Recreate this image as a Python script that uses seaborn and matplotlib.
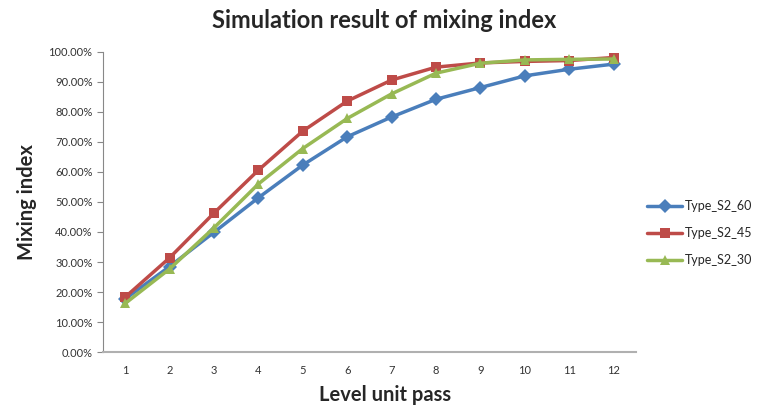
import pandas as pd
import matplotlib.pyplot as plt
import seaborn as sns
from matplotlib.ticker import PercentFormatter

passes = list(range(1, 13))
type_s2_60 = [17.7, 28.5, 39.9, 51.4, 62.3, 71.7, 78.3, 84.2, 88.1, 92.0, 94.2, 95.9]
type_s2_45 = [18.3, 31.4, 46.3, 60.6, 73.6, 83.6, 90.6, 94.9, 96.3, 96.8, 97.1, 98.1]
type_s2_30 = [16.2, 27.7, 41.4, 56.0, 67.8, 77.8, 86.0, 92.9, 96.2, 97.3, 97.5, 97.6]

series = ["Type_S2_60", "Type_S2_45", "Type_S2_30"]
colors = ["#4a7ebb", "#be4b48", "#98b954"]
markers = ["D", "s", "^"]

df = pd.DataFrame({
    "pass": passes * 3,
    "value": type_s2_60 + type_s2_45 + type_s2_30,
    "series": [s for s in series for _ in passes],
})

sns.set_style("white")
plt.rcParams["font.family"] = ["Lato", "DejaVu Sans"]

fig = plt.figure(figsize=(7.57, 4.08), dpi=100)
ax = fig.add_axes([0.136, 0.137, 0.704, 0.736])

sns.lineplot(data=df, x="pass", y="value", hue="series", style="series",
             palette=colors, markers=markers, dashes=False, linewidth=2.5,
             markersize=7, markeredgewidth=0, ax=ax)

ax.set_xlim(0.5, 12.5)
ax.set_ylim(0, 100)
ax.set_xticks(passes)
ax.set_yticks(range(0, 101, 10))
ax.yaxis.set_major_formatter(PercentFormatter(decimals=2))
ax.tick_params(axis="y", left=True, length=4, color="#888888", labelsize=8, labelcolor="#333333")
ax.tick_params(axis="x", bottom=False, labelsize=8, labelcolor="#333333", pad=6)

for side in ["top", "right"]:
    ax.spines[side].set_visible(False)
ax.spines["left"].set_color("#888888")
ax.spines["bottom"].set_color("#b0b0b0")
ax.spines["bottom"].set_linewidth(1.5)

ax.set_xlabel("Level unit pass", fontsize=14.5, fontweight="bold", va="center")
ax.xaxis.set_label_coords(0.529, -43 / 301)
ax.set_ylabel("Mixing index", fontsize=14.5, fontweight="bold", labelpad=8)
fig.text(0.507, 1 - 21 / 408, "Simulation result of mixing index", fontsize=17,
         fontweight="bold", ha="center", va="center")

h, l = ax.get_legend_handles_labels()
ax.legend(h, l, loc="center left", bbox_to_anchor=(1.0, 0.397), frameon=False,
          fontsize=9, handlelength=2.8, labelspacing=1.2, handletextpad=0.2)

fig.savefig("out.png", dpi=100)
